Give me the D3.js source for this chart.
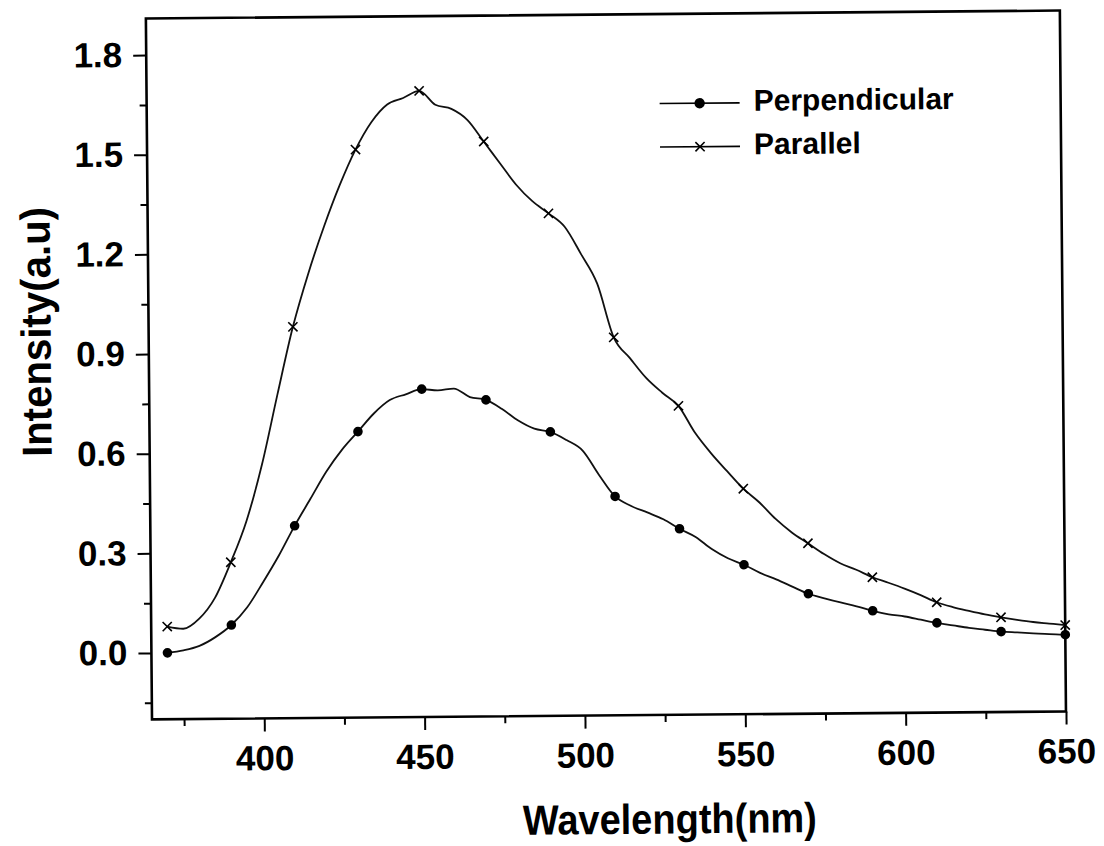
<!DOCTYPE html>
<html>
<head>
<meta charset="utf-8">
<script src="https://cdn.jsdelivr.net/npm/d3@7"></script>
<style>
body { margin: 0; background: #fff; }
text { font-family: "Liberation Sans", Arial, sans-serif; font-weight: bold; fill: #000; }
</style>
</head>
<body>
<div id="chart"></div>
<script>
// Emission spectra, perpendicular vs parallel polarisation

var wavelength = [370, 375, 380, 385, 390, 395, 400, 405, 410, 415, 420, 425, 430, 435, 440, 445,
    450, 455, 460, 465, 470, 475, 480, 485, 490, 495, 500, 505, 510, 515, 520, 525, 530, 535,
    540, 545, 550, 555, 560, 565, 570, 575, 580, 585, 590, 595, 600, 605, 610, 615, 620, 625,
    630, 635, 640, 645, 650];

var perpendicular = [0.000, 0.007, 0.020, 0.046, 0.082, 0.135, 0.210, 0.290, 0.379, 0.460, 0.541,
    0.607, 0.661, 0.715, 0.755, 0.772, 0.787, 0.783, 0.788, 0.762, 0.753, 0.725, 0.690, 0.665,
    0.655, 0.630, 0.598, 0.525, 0.459, 0.430, 0.410, 0.389, 0.360, 0.335, 0.298, 0.270, 0.250,
    0.225, 0.205, 0.183, 0.161, 0.147, 0.134, 0.122, 0.108, 0.097, 0.090, 0.080, 0.070, 0.062,
    0.054, 0.048, 0.042, 0.039, 0.036, 0.033, 0.031];

var parallel = [0.079, 0.072, 0.102, 0.165, 0.271, 0.395, 0.565, 0.775, 0.978, 1.140, 1.280,
    1.404, 1.510, 1.592, 1.645, 1.664, 1.685, 1.643, 1.630, 1.596, 1.531, 1.465, 1.400, 1.350,
    1.313, 1.272, 1.190, 1.100, 0.938, 0.875, 0.815, 0.770, 0.730, 0.650, 0.587, 0.532, 0.479,
    0.437, 0.387, 0.346, 0.313, 0.280, 0.252, 0.232, 0.209, 0.192, 0.174, 0.154, 0.132, 0.117,
    0.105, 0.094, 0.085, 0.077, 0.070, 0.065, 0.060];

var markerWavelengths = [370, 390, 410, 430, 450, 470, 490, 510, 530, 550, 570, 590, 610, 630, 650];

var xTicks = [400, 450, 500, 550, 600, 650];
var xMinorTicks = [375, 425, 475, 525, 575, 625];
var yTicks = [0.0, 0.3, 0.6, 0.9, 1.2, 1.5, 1.8];
var yMinorTicks = [-0.15, 0.15, 0.45, 0.75, 1.05, 1.35, 1.65];

var seriesNames = ["Perpendicular", "Parallel"];

var svgWidth = 1104;
var svgHeight = 846;
var margin = { top: 18.5, right: 38, bottom: 126.6, left: 152 };
var width = svgWidth - margin.left - margin.right;
var height = svgHeight - margin.top - margin.bottom;

var svg = d3.select("#chart")
    .append("svg")
    .attr("width", svgWidth)
    .attr("height", svgHeight);

// the scanned figure is tilted a little, so the whole chart is turned slightly
var page = svg.append("g")
    .attr("transform", `rotate(-0.5, ${margin.left}, ${margin.top + height})`);

var chartGroup = page.append("g")
    .attr("transform", `translate(${margin.left}, ${margin.top})`);

var xScale = d3.scaleLinear().domain([365, 650]).range([0, width]);
var yScale = d3.scaleLinear().domain([-0.2, 1.91]).range([height, 0]);

// axes
var xAxis = d3.axisBottom(xScale).tickValues(xTicks).tickSize(13).tickPadding(14)
    .tickFormat(d3.format("d"));
var xMinor = d3.axisBottom(xScale).tickValues(xMinorTicks).tickSize(7).tickFormat("");
var yAxis = d3.axisLeft(yScale).tickValues(yTicks).tickSize(13).tickPadding(11)
    .tickFormat(d3.format(".1f"));
var yMinor = d3.axisLeft(yScale).tickValues(yMinorTicks).tickSize(7).tickFormat("");

function styleAxis(g) {
    g.select(".domain").remove();
    g.selectAll("line").attr("stroke", "#000").attr("stroke-width", 2);
    g.selectAll("text").attr("font-size", 35).attr("font-family", null);
}

chartGroup.append("g").attr("transform", `translate(0,${height})`).call(xAxis).call(styleAxis);
chartGroup.append("g").attr("transform", `translate(0,${height})`).call(xMinor).call(styleAxis);
chartGroup.append("g").call(yAxis).call(styleAxis);
chartGroup.append("g").call(yMinor).call(styleAxis);

// frame
chartGroup.append("rect")
    .attr("x", 0).attr("y", 0)
    .attr("width", width).attr("height", height)
    .attr("fill", "none")
    .attr("stroke", "#000")
    .attr("stroke-width", 2.6);

// curves
var line = d3.line()
    .x(d => xScale(d.w))
    .y(d => yScale(d.v))
    .curve(d3.curveMonotoneX);

var perpData = wavelength.map((w, i) => ({ w: w, v: perpendicular[i] }));
var paraData = wavelength.map((w, i) => ({ w: w, v: parallel[i] }));

chartGroup.append("path").datum(paraData)
    .attr("d", line).attr("fill", "none").attr("stroke", "#111").attr("stroke-width", 1.8);
chartGroup.append("path").datum(perpData)
    .attr("d", line).attr("fill", "none").attr("stroke", "#111").attr("stroke-width", 1.8);

function crossPath(s) {
    return `M${-s},${-s}L${s},${s}M${-s},${s}L${s},${-s}`;
}

chartGroup.append("g").selectAll("path")
    .data(paraData.filter(d => markerWavelengths.includes(d.w)))
    .enter()
    .append("path")
    .attr("transform", d => `translate(${xScale(d.w)},${yScale(d.v)})`)
    .attr("d", crossPath(4.6))
    .attr("stroke", "#000")
    .attr("stroke-width", 1.6);

chartGroup.append("g").selectAll("circle")
    .data(perpData.filter(d => markerWavelengths.includes(d.w)))
    .enter()
    .append("circle")
    .attr("cx", d => xScale(d.w))
    .attr("cy", d => yScale(d.v))
    .attr("r", 4.8)
    .attr("fill", "#000");

// legend
var legend = page.append("g").attr("transform", "translate(665,108)");
seriesNames.forEach(function(name, i) {
    var row = legend.append("g").attr("transform", `translate(0,${i * 43.5})`);
    row.append("line").attr("x1", 0).attr("x2", 80).attr("y1", 0).attr("y2", 0)
        .attr("stroke", "#000").attr("stroke-width", 1.6);
    if (i === 0) {
        row.append("circle").attr("cx", 40).attr("cy", 0).attr("r", 5.2).attr("fill", "#000");
    } else {
        row.append("path").attr("transform", "translate(40,0)").attr("d", crossPath(4.6))
            .attr("stroke", "#000").attr("stroke-width", 1.6);
    }
    row.append("text").attr("x", 94).attr("y", 8).attr("font-size", 30).text(name);
});

// axis titles
page.append("text")
    .attr("x", 669).attr("y", 838)
    .attr("text-anchor", "middle")
    .attr("font-size", 42)
    .attr("textLength", 294)
    .attr("lengthAdjust", "spacingAndGlyphs")
    .text("Wavelength(nm)");

page.append("text")
    .attr("transform", "translate(54,331) rotate(-90)")
    .attr("text-anchor", "middle")
    .attr("font-size", 42)
    .attr("textLength", 250)
    .attr("lengthAdjust", "spacingAndGlyphs")
    .text("Intensity(a.u)");
</script>
</body>
</html>
